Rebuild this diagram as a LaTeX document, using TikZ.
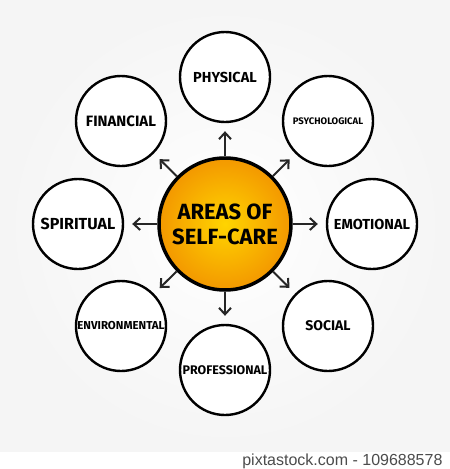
\documentclass[tikz,border=0pt]{standalone}
\usepackage{fontspec}
\setmainfont{Fira Sans}
\newfontfamily\markfont{Liberation Sans}
\usetikzlibrary{arrows.meta,positioning}
\definecolor{coreyellow}{HTML}{FFD400}
\definecolor{coreorange}{HTML}{F39800}
\definecolor{inkgray}{HTML}{262626}

\begin{document}
\begin{tikzpicture}[
x=1pt,y=-1pt,
leaf/.style={circle,draw=black,line width=2.4pt,fill=white,minimum size=90pt,inner sep=0pt,
  font=\bfseries\fontsize{14.5}{16}\selectfont},
smallleaf/.style={leaf,font=\bfseries\fontsize{11.5}{13}\selectfont},
spoke/.style={-{Straight Barb[length=6.5pt,width=12pt]},line width=2pt,draw=inkgray,shorten >=8pt}]
    % Background
    \useasboundingbox (0,0) rectangle (450,469);
    \shade[inner color=white,outer color=gray!8] (0,0) rectangle (450,452);
    \fill[white] (0,452) rectangle (450,469);
    \node[anchor=east,text=gray!60!black,font=\markfont\fontsize{16}{18}\selectfont]
        (credit) at (446,461) {pixtastock.com - 109688578};

    % Hub
    \node[circle,draw=black,line width=3.5pt,minimum size=132pt,inner sep=0pt,
        inner color=coreyellow,outer color=coreorange,align=center,
        font=\bfseries\fontsize{22}{25}\selectfont] (core) at (225,224) {AREAS OF\\SELF-CARE};

    % Areas
    \node[leaf] (physical) at (225,77) {PHYSICAL};
    \node[smallleaf,font=\bfseries\fontsize{9.5}{11}\selectfont] (psych) at (328,121) {PSYCHOLOGICAL};
    \node[leaf] (emotional) at (372,224) {EMOTIONAL};
    \node[leaf,font=\bfseries\fontsize{14}{16}\selectfont] (social) at (328,326) {SOCIAL};
    \node[smallleaf,font=\bfseries\fontsize{12.5}{14}\selectfont] (professional) at (225,370) {PROFESSIONAL};
    \node[smallleaf] (environ) at (121,326) {ENVIRONMENTAL};
    \node[leaf,font=\bfseries\fontsize{16}{18}\selectfont] (spiritual) at (78,224) {SPIRITUAL};
    \node[leaf,font=\bfseries\fontsize{15}{17}\selectfont] (financial) at (121,121) {FINANCIAL};

    % Spokes
    \draw[spoke] (core) -- (physical);
    \draw[spoke] (core) -- (psych);
    \draw[spoke] (core) -- (emotional);
    \draw[spoke] (core) -- (social);
    \draw[spoke] (core) -- (professional);
    \draw[spoke] (core) -- (environ);
    \draw[spoke] (core) -- (spiritual);
    \draw[spoke] (core) -- (financial);
\end{tikzpicture}
\end{document}
